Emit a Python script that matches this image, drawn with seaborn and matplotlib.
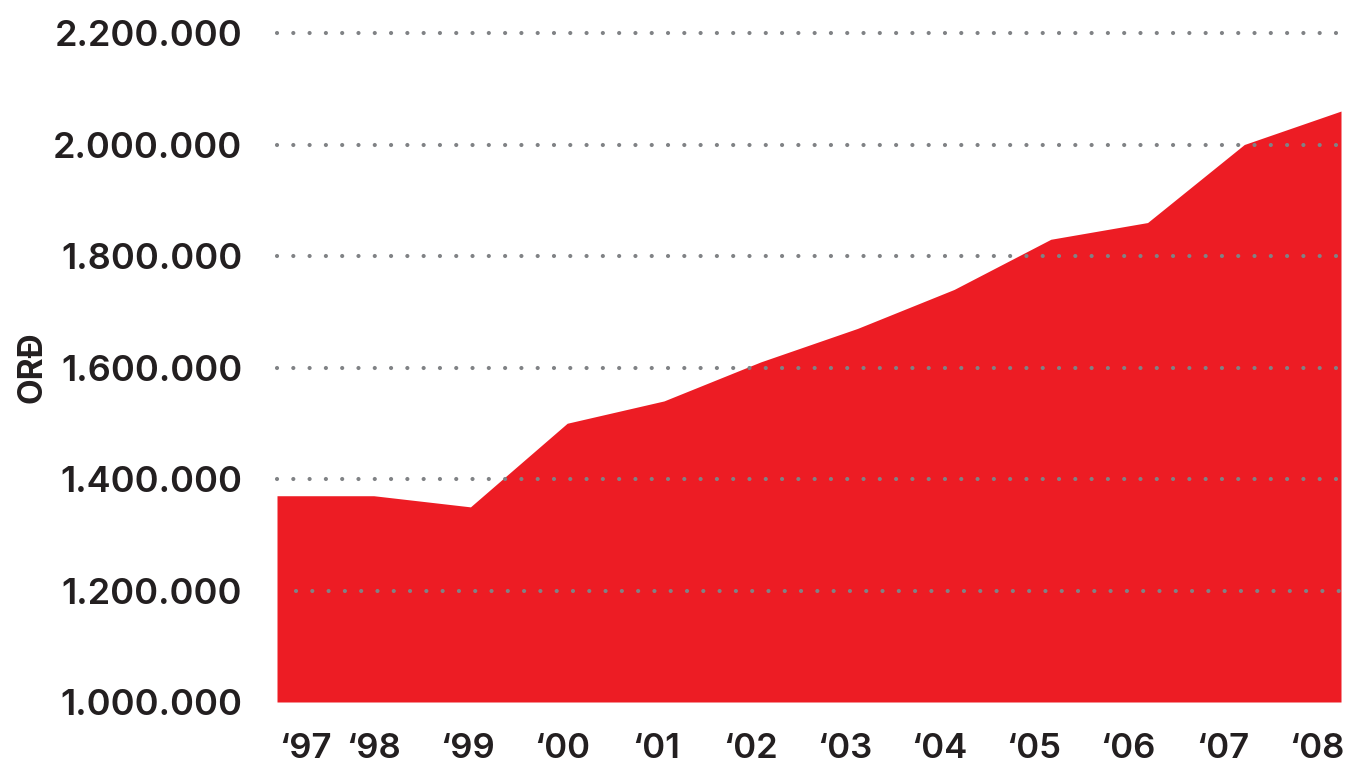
import numpy as np
import pandas as pd
import seaborn as sns
import matplotlib.pyplot as plt

# values (ORĐ per year)
years = ["‘97", "‘98", "‘99", "‘00", "‘01", "‘02", "‘03", "‘04", "‘05", "‘06", "‘07", "‘08"]
values = [1370000, 1370000, 1350000, 1500000, 1540000, 1610000,
          1670000, 1740000, 1830000, 1860000, 2000000, 2060000]
y_ticks = [1000000, 1200000, 1400000, 1600000, 1800000, 2000000, 2200000]

RED = "#ed1c24"
TEXT = "#231f20"
GRID = "#808285"

sns.set_theme(style="white")
plt.rcParams["font.family"] = ["Inter", "DejaVu Sans"]

df = pd.DataFrame({"idx": np.arange(len(years)), "year": years, "value": values})

fig = plt.figure(figsize=(13.47, 7.63), dpi=100)
ax = fig.add_axes([277 / 1347, 61 / 763, 1064 / 1347, 669 / 763])

sns.lineplot(data=df, x="idx", y="value", ax=ax, color=RED, linewidth=0)
ax.fill_between(df["idx"], y_ticks[0], df["value"], color=RED, linewidth=0, zorder=2)

last = len(years) - 1
ax.set_xlim(0, last)
ax.set_ylim(y_ticks[0], y_ticks[-1])

# dotted guides, drawn over the area
for t in y_ticks[1:]:
    start = 0.2 if t == 1200000 else 0
    ax.plot([start, last + 0.02], [t, t], color=GRID, linewidth=3.0,
            linestyle=(0, (0.01, 3.9)), dash_capstyle="round", zorder=3,
            clip_on=False)

ax.set_yticks(y_ticks)
ax.set_yticklabels([f"{v:,}".replace(",", ".") for v in y_ticks])

# year labels sit slightly compressed against the points
n = len(years)
xt = [0.02] + [1 + (i - 1) * 0.975 for i in range(1, n)]
ax.set_xticks(xt)
ax.set_xticklabels(years)
ax.get_xticklabels()[0].set_ha("left")

ax.tick_params(axis="y", length=0, pad=25, labelsize=26, labelcolor=TEXT)
ax.tick_params(axis="x", length=0, pad=22, labelsize=25, labelcolor=TEXT)
for lab in ax.get_xticklabels() + ax.get_yticklabels():
    lab.set_fontweight("semibold")

ax.set_xlabel("")
ax.set_ylabel("ORĐ", fontsize=24, fontweight="bold", color=TEXT)
ax.yaxis.set_label_coords(-0.215, 0.5)

for s in ax.spines.values():
    s.set_visible(False)

fig.savefig("out.png", dpi=100)
